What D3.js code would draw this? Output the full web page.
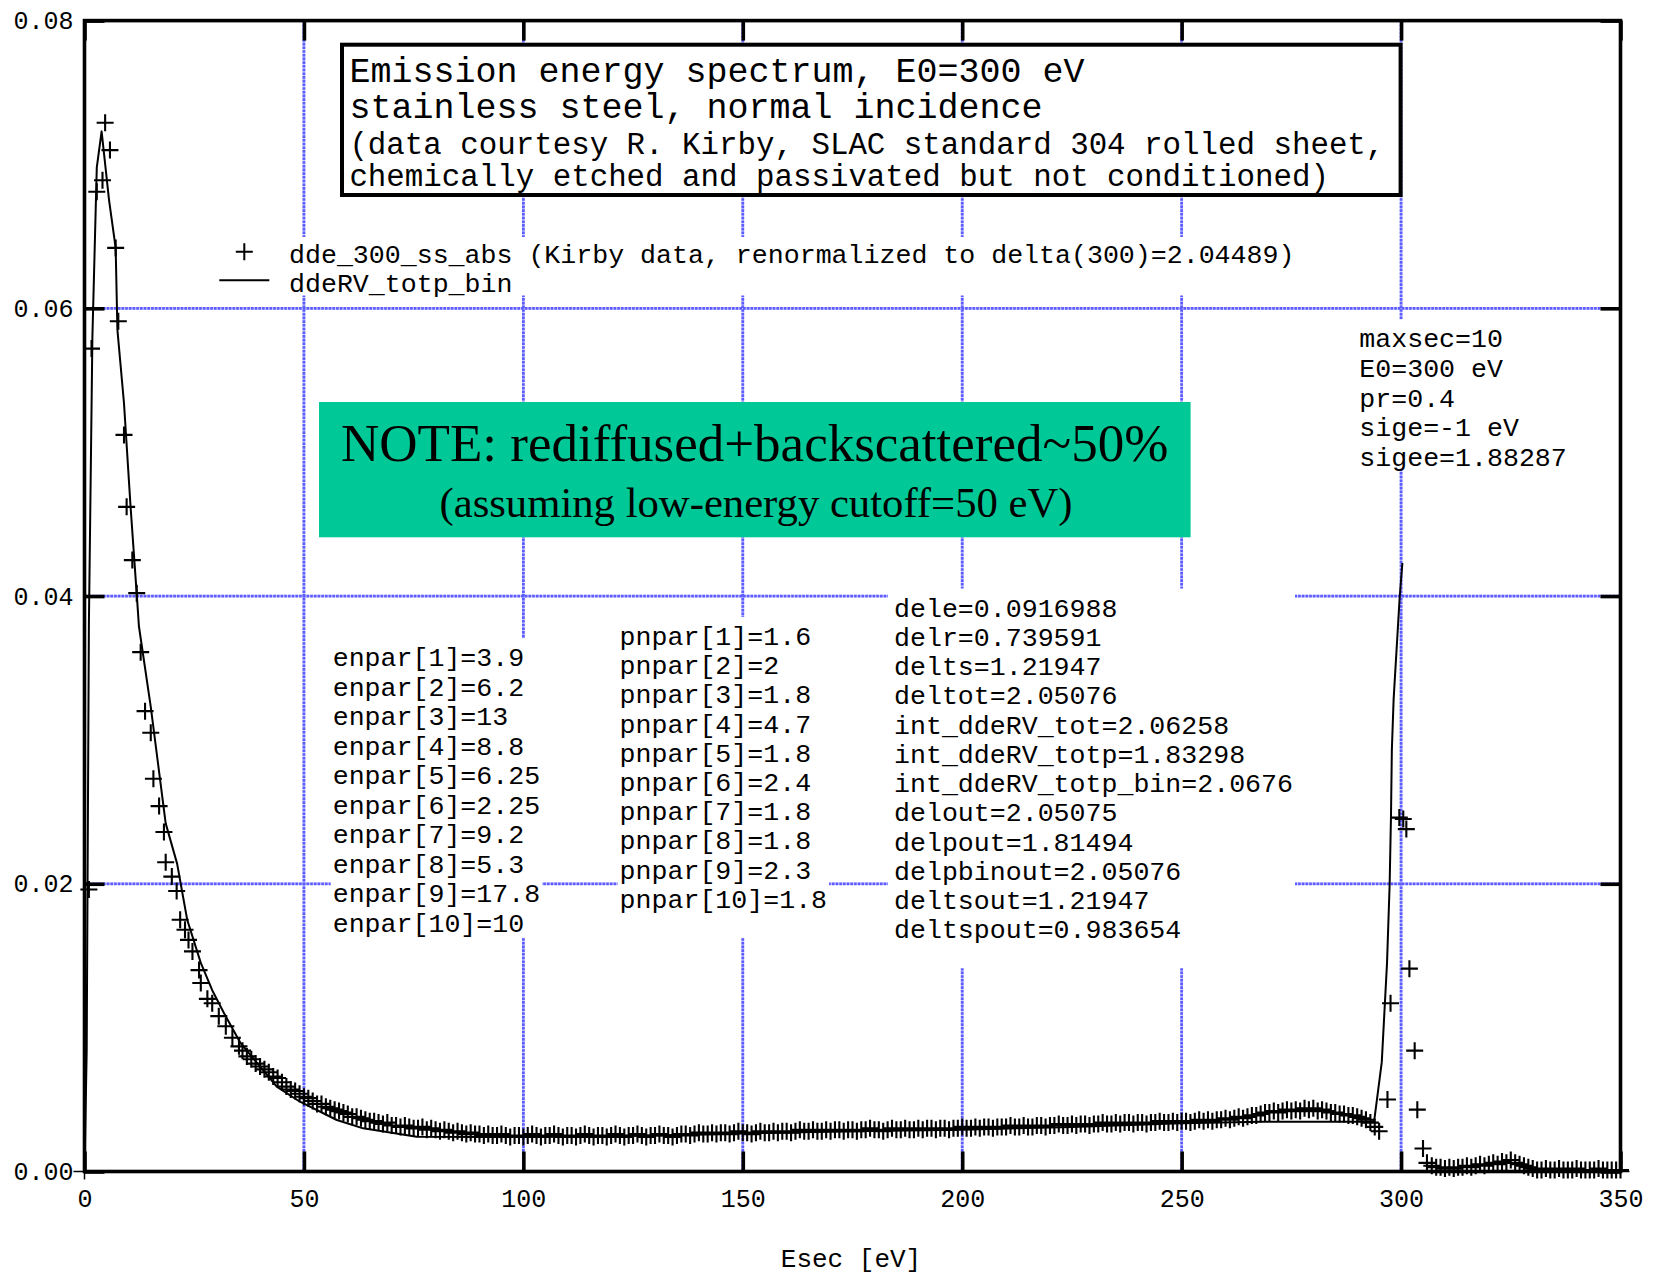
<!DOCTYPE html>
<html><head><meta charset="utf-8">
<script src="https://cdn.jsdelivr.net/npm/d3@7"></script>
<style>body{margin:0;background:#fff} svg{display:block}</style>
</head><body><svg id="chart" width="1655" height="1278"></svg>
<script>
// ---- measured emission spectrum (Kirby, renormalized), energies in eV ----
const riseEnergy = [1.0,1.6,2.8,4.1,4.7,5.8,7.1,7.7,9.0,9.6,10.9,11.9,12.8,13.8,15.1,15.7,17.0,18.1,18.5,19.9,21.0,21.8,22.9,23.7,24.6,26.1,26.5,28.0,29.1,30.6,32.2,33.7,35.2];
const riseYield  = [0.0196,0.0572,0.0681,0.0689,0.0729,0.0710,0.0642,0.0591,0.0512,0.0462,0.0425,0.0402,0.0361,0.0320,0.0305,0.0273,0.0254,0.0236,0.0215,0.0205,0.0195,0.0175,0.0168,0.0161,0.0153,0.0140,0.0131,0.0120,0.0117,0.0108,0.0101,0.0093,0.0087];

const plateauEnergy = [
 36,37,38,39,40,41,42,43,44,45, 46,47,48,49,50,51,52,53,54,55,
 56,57,58,59,60,61,62,63,64,65, 66,67,68,69,70,71,72,73,74,75,
 76,77,78,79,80,81,82,83,84,85, 86,87,88,89,90,91,92,93,94,95,
 96,97,98,99,100,101,102,103,104,105, 106,107,108,109,110,111,112,113,114,115,
 116,117,118,119,120,121,122,123,124,125, 126,127,128,129,130,131,132,133,134,135,
 136,137,138,139,140,141,142,143,144,145, 146,147,148,149,150,151,152,153,154,155,
 156,157,158,159,160,161,162,163,164,165, 166,167,168,169,170,171,172,173,174,175,
 176,177,178,179,180,181,182,183,184,185, 186,187,188,189,190,191,192,193,194,195,
 196,197,198,199,200,201,202,203,204,205, 206,207,208,209,210,211,212,213,214,215,
 216,217,218,219,220,221,222,223,224,225, 226,227,228,229,230,231,232,233,234,235,
 236,237,238,239,240,241,242,243,244,245, 246,247,248,249,250,251,252,253,254,255,
 256,257,258,259,260,261,262,263,264,265, 266,267,268,269,270,271,272,273,274,275,
 276,277,278,279,280,281,282,283,284,285, 286,287,288,289,290,291,292,293,294,295];
const plateauYield = [
 0.0084,0.0080,0.0078,0.0075,0.0073,0.0071,0.0069,0.0066,0.0065,0.0062,
 0.0059,0.0057,0.0056,0.0054,0.0052,0.0051,0.0049,0.0047,0.0047,0.0045,
 0.0044,0.0043,0.0042,0.0041,0.0040,0.0038,0.0038,0.0037,0.0036,0.0035,
 0.0035,0.0034,0.0033,0.0034,0.0032,0.0032,0.0031,0.0032,0.0031,0.0030,
 0.0030,0.0031,0.0029,0.0030,0.0029,0.0028,0.0029,0.0028,0.0027,0.0028,
 0.0027,0.0026,0.0027,0.0026,0.0026,0.0025,0.0026,0.0025,0.0025,0.0026,
 0.0025,0.0024,0.0025,0.0025,0.0024,0.0025,0.0026,0.0025,0.0024,0.0025,
 0.0025,0.0026,0.0025,0.0024,0.0025,0.0025,0.0024,0.0025,0.0026,0.0025,
 0.0024,0.0025,0.0025,0.0024,0.0025,0.0026,0.0025,0.0024,0.0025,0.0025,
 0.0026,0.0025,0.0024,0.0025,0.0025,0.0026,0.0025,0.0025,0.0024,0.0025,
 0.0026,0.0026,0.0025,0.0026,0.0027,0.0026,0.0026,0.0027,0.0026,0.0027,
 0.0027,0.0026,0.0027,0.0028,0.0027,0.0027,0.0026,0.0027,0.0028,0.0027,
 0.0027,0.0028,0.0027,0.0028,0.0028,0.0027,0.0028,0.0029,0.0028,0.0028,
 0.0029,0.0028,0.0028,0.0029,0.0028,0.0029,0.0029,0.0028,0.0029,0.0029,
 0.0028,0.0029,0.0029,0.0030,0.0029,0.0029,0.0028,0.0029,0.0030,0.0029,
 0.0029,0.0030,0.0029,0.0029,0.0030,0.0029,0.0030,0.0030,0.0029,0.0030,
 0.0030,0.0029,0.0030,0.0030,0.0031,0.0030,0.0030,0.0031,0.0030,0.0031,
 0.0031,0.0030,0.0031,0.0031,0.0031,0.0032,0.0031,0.0031,0.0032,0.0031,
 0.0031,0.0032,0.0032,0.0031,0.0032,0.0032,0.0033,0.0032,0.0032,0.0033,
 0.0032,0.0033,0.0033,0.0032,0.0033,0.0033,0.0034,0.0033,0.0033,0.0034,
 0.0033,0.0034,0.0034,0.0033,0.0034,0.0034,0.0033,0.0034,0.0034,0.0035,
 0.0034,0.0034,0.0035,0.0034,0.0035,0.0035,0.0034,0.0035,0.0036,0.0035,
 0.0036,0.0035,0.0036,0.0036,0.0037,0.0036,0.0037,0.0038,0.0037,0.0038,
 0.0039,0.0039,0.0040,0.0041,0.0041,0.0042,0.0041,0.0042,0.0043,0.0042,
 0.0043,0.0042,0.0044,0.0043,0.0044,0.0042,0.0043,0.0042,0.0041,0.0041,
 0.0040,0.0040,0.0039,0.0039,0.0038,0.0037,0.0036,0.0034,0.0031,0.0028];

const peakEnergy = [296.9,297.6,299.6,300.5,301.2,301.9,303.1,303.7,305.0,305.9];
const peakYield  = [0.0050,0.0117,0.0246,0.0245,0.0238,0.0141,0.0084,0.0043,0.0016,0.0006];

const tailEnergy = [307,308,309,310,311,312,313,314,315,316, 317,318,319,320,321,322,323,324,325,326,
 327,328,329,330,331,332,333,334,335,336, 337,338,339,340,341,342,343,344,345,346, 347,348,349,350];
const tailYield = [
 0.0004,0.0003,0.0003,0.0002,0.0003,0.0002,0.0003,0.0003,0.0004,0.0003,
 0.0004,0.0005,0.0004,0.0005,0.0006,0.0005,0.0007,0.0006,0.0008,0.0006,
 0.0005,0.0004,0.0003,0.0002,0.0001,0.0001,0.0002,0.0001,0.0001,0.0002,
 0.0001,0.0001,0.0001,0.0002,0.0001,0.0001,0.0001,0.0001,0.0002,0.0001,
 0.0001,0.0001,0.0001,0.0001];

// ---- model curve ddeRV_totp_bin ----
const binEnergy = [0,0.5,1.0,1.8,2.8,3.9,5.6,7.1,7.5,9.0,10.5,12.0,12.4,15.1,18.5,21.1,23.4,26.5,29.1,31.8,35.6,40.0,43.8,49.1,57.5,63.5,75.7,92,110,130,150,175,200,225,250,268,293.5,293.9,294.5,295.6,296.8,297.4,297.7,297.9,298.3,299.7,300.3];
const binYield  = [0,0.0084,0.038,0.058,0.0698,0.0723,0.0675,0.0642,0.0585,0.0534,0.0462,0.0397,0.0379,0.0323,0.0242,0.0214,0.0175,0.0145,0.0126,0.0110,0.0089,0.0073,0.0059,0.00485,0.00358,0.0030,0.00242,0.0024,0.00242,0.0025,0.00265,0.0028,0.0029,0.0031,0.00335,0.00346,0.00346,0.00358,0.0050,0.0076,0.0145,0.0200,0.0247,0.0293,0.0328,0.0400,0.0423];

// ---- axes ----
const xTicks = [0,50,100,150,200,250,300,350];
const yTicks = [0,0.02,0.04,0.06,0.08];
const yTickLabels = ["0.00","0.02","0.04","0.06","0.08"];
const xTitle = "Esec [eV]";

// ---- annotation text ----
const titleLarge = ["Emission energy spectrum, E0=300 eV","stainless steel, normal incidence"];
const titleSmall = ["(data courtesy R. Kirby, SLAC standard 304 rolled sheet,","chemically etched and passivated but not conditioned)"];
const legendLabels = ["dde_300_ss_abs (Kirby data, renormalized to delta(300)=2.04489)","ddeRV_totp_bin"];
const runLines = ["maxsec=10","E0=300 eV","pr=0.4","sige=-1 eV","sigee=1.88287"];
const enparLines = ["enpar[1]=3.9","enpar[2]=6.2","enpar[3]=13","enpar[4]=8.8","enpar[5]=6.25","enpar[6]=2.25","enpar[7]=9.2","enpar[8]=5.3","enpar[9]=17.8","enpar[10]=10"];
const pnparLines = ["pnpar[1]=1.6","pnpar[2]=2","pnpar[3]=1.8","pnpar[4]=4.7","pnpar[5]=1.8","pnpar[6]=2.4","pnpar[7]=1.8","pnpar[8]=1.8","pnpar[9]=2.3","pnpar[10]=1.8"];
const deltaLines = ["dele=0.0916988","delr=0.739591","delts=1.21947","deltot=2.05076","int_ddeRV_tot=2.06258","int_ddeRV_totp=1.83298","int_ddeRV_totp_bin=2.0676","delout=2.05075","delpout=1.81494","delpbinout=2.05076","deltsout=1.21947","deltspout=0.983654"];
const noteLines = ["NOTE: rediffused+backscattered~50%","(assuming low-energy cutoff=50 eV)"];

// ---------------------------------------------------------------
const MONO = "'Liberation Mono','DejaVu Sans Mono',monospace";
const SERIF = "'Liberation Serif','DejaVu Serif',serif";
const svg = d3.select("#chart");
const x = d3.scaleLinear().domain([0,350]).range([84.5,1620.5]);
const y = d3.scaleLinear().domain([0,0.08]).range([1171.5,20.6]);

const points = [];
[[riseEnergy,riseYield],[plateauEnergy,plateauYield],[peakEnergy,peakYield],[tailEnergy,tailYield]]
  .forEach(([es,vs]) => es.forEach((e,i) => points.push([e, vs[i]])));
const curve = binEnergy.map((e,i) => [e, binYield[i]]);

// dotted grid: pale blue underlay with saturated dots on top
function gridLayer(stroke, width, dash) {
  const g = svg.append("g").attr("stroke",stroke).attr("stroke-width",width);
  if (dash) g.attr("stroke-dasharray",dash);
  g.selectAll("line.gx").data(xTicks.slice(1,-1)).join("line").attr("class","gx")
    .attr("x1",d=>x(d)).attr("x2",d=>x(d)).attr("y1",y(0.08)).attr("y2",y(0));
  g.selectAll("line.gy").data(yTicks.slice(1,-1)).join("line").attr("class","gy")
    .attr("y1",d=>y(d)).attr("y2",d=>y(d)).attr("x1",x(0)).attr("x2",x(350));
}
gridLayer("#c8c8ff", 2.6, null);
gridLayer("#5c5cff", 2.8, "2.6,1.1");

// text block helper: white backing + lines of monospace text
function textBlock(lines, x0, base0, step, size, pad) {
  const g = svg.append("g");
  const bg = g.append("rect").attr("fill","#fff");
  const t = g.selectAll("text").data(lines).join("text")
    .attr("x",x0).attr("y",(d,i)=>base0+i*step)
    .attr("font-family",MONO).attr("font-size",size).attr("fill","#000")
    .attr("xml:space","preserve").text(d=>d);
  let w = 0; t.each(function(){ w = Math.max(w, this.getComputedTextLength()); });
  const p = Object.assign({l:2,r:2,t:28,b:5}, pad||{});
  bg.attr("x",x0-p.l).attr("y",base0-p.t).attr("width",w+p.l+p.r)
    .attr("height",(lines.length-1)*step+p.t+p.b);
  return g;
}

// title box
svg.append("rect").attr("x",342).attr("y",44.7).attr("width",1058.6).attr("height",150.3)
  .attr("fill","#fff").attr("stroke","#000").attr("stroke-width",4);
svg.append("g").selectAll("text").data(titleLarge).join("text")
  .attr("x",349.4).attr("y",(d,i)=>82.3+i*35.9).attr("font-family",MONO).attr("font-size",35).text(d=>d);
svg.append("g").selectAll("text").data(titleSmall).join("text")
  .attr("x",349.4).attr("y",(d,i)=>154+i*31.8).attr("font-family",MONO).attr("font-size",30.8).text(d=>d);

// legend
const leg = textBlock(legendLabels, 289, 263, 28.5, 26.6, {l:84, t:26, b:4});
leg.append("path").attr("d",`M${244.3-8.5},251.7h17M244.3,${251.7-8.5}v17`).attr("stroke","#000").attr("stroke-width",2);
leg.append("line").attr("x1",219.3).attr("x2",269.3).attr("y1",280.3).attr("y2",280.3).attr("stroke","#000").attr("stroke-width",2);

// parameter blocks
textBlock(runLines, 1359.3, 347.3, 29.6, 26.6, {b:3});
textBlock(enparLines, 332.7, 666.2, 29.5, 26.6, {b:6});
textBlock(pnparLines, 619.6, 645, 29.2, 26.6, {b:30});
textBlock(deltaLines, 894, 616.5, 29.25, 26.6, {b:30, l:6});

// note box
svg.append("rect").attr("x",319).attr("y",402).attr("width",871.6).attr("height",135.3).attr("fill","#00c896");
svg.append("text").attr("x",754.7).attr("y",461).attr("text-anchor","middle")
  .attr("font-family",SERIF).attr("font-size",53).text(noteLines[0]);
svg.append("text").attr("x",756).attr("y",517).attr("text-anchor","middle")
  .attr("font-family",SERIF).attr("font-size",42.7).text(noteLines[1]);

// model curve
svg.append("path").datum(curve)
  .attr("d", d3.line().x(d=>x(d[0])).y(d=>y(d[1])))
  .attr("fill","none").attr("stroke","#000").attr("stroke-width",2).attr("stroke-linejoin","round");

// measured points as crosses
svg.append("path")
  .attr("d", points.map(([e,v]) => { const px=x(e), py=y(v); return `M${px-8.5},${py}h17M${px},${py-8.5}v17`; }).join(""))
  .attr("stroke","#000").attr("stroke-width",2.1).attr("fill","none");

// frame
svg.append("rect").attr("x",x(0)).attr("y",y(0.08)).attr("width",x(350)-x(0)).attr("height",y(0)-y(0.08))
  .attr("fill","none").attr("stroke","#000").attr("stroke-width",3.6);

// axes with inward ticks
function styleAxis(g){
  g.select(".domain").remove();
  g.selectAll(".tick line").attr("stroke","#000").attr("stroke-width",3.6);
  g.selectAll(".tick text").attr("font-family",MONO).attr("font-size",25).attr("fill","#000");
}
svg.append("g").attr("transform",`translate(0,${y(0)})`)
  .call(d3.axisBottom(x).tickValues(xTicks).tickFormat(d3.format("d")).tickSizeInner(-20).tickSizeOuter(0).tickPadding(18))
  .call(styleAxis);
svg.append("g").attr("transform",`translate(0,${y(0.08)})`)
  .call(d3.axisTop(x).tickValues(xTicks).tickFormat("").tickSizeInner(-20).tickSizeOuter(0))
  .call(styleAxis);
svg.append("g").attr("transform",`translate(${x(0)},0)`)
  .call(d3.axisLeft(y).tickValues(yTicks).tickFormat((d,i)=>yTickLabels[i]).tickSizeInner(-20).tickSizeOuter(0).tickPadding(11))
  .call(styleAxis);
svg.append("g").attr("transform",`translate(${x(350)},0)`)
  .call(d3.axisRight(y).tickValues(yTicks).tickFormat("").tickSizeInner(-20).tickSizeOuter(0))
  .call(styleAxis);

// short outward stubs at the lower corners
const stubs = svg.append("g").attr("stroke","#000").attr("stroke-width",1.5);
stubs.append("line").attr("x1",x(0)-11).attr("x2",x(0)).attr("y1",y(0)).attr("y2",y(0));
stubs.append("line").attr("x1",x(0)).attr("x2",x(0)).attr("y1",y(0)).attr("y2",y(0)+8);
stubs.append("line").attr("x1",x(350)).attr("x2",x(350)+9).attr("y1",y(0)).attr("y2",y(0));

// x axis title
svg.append("text").attr("x",851).attr("y",1267).attr("text-anchor","middle")
  .attr("font-family",MONO).attr("font-size",26).text(xTitle);
</script></body></html>
